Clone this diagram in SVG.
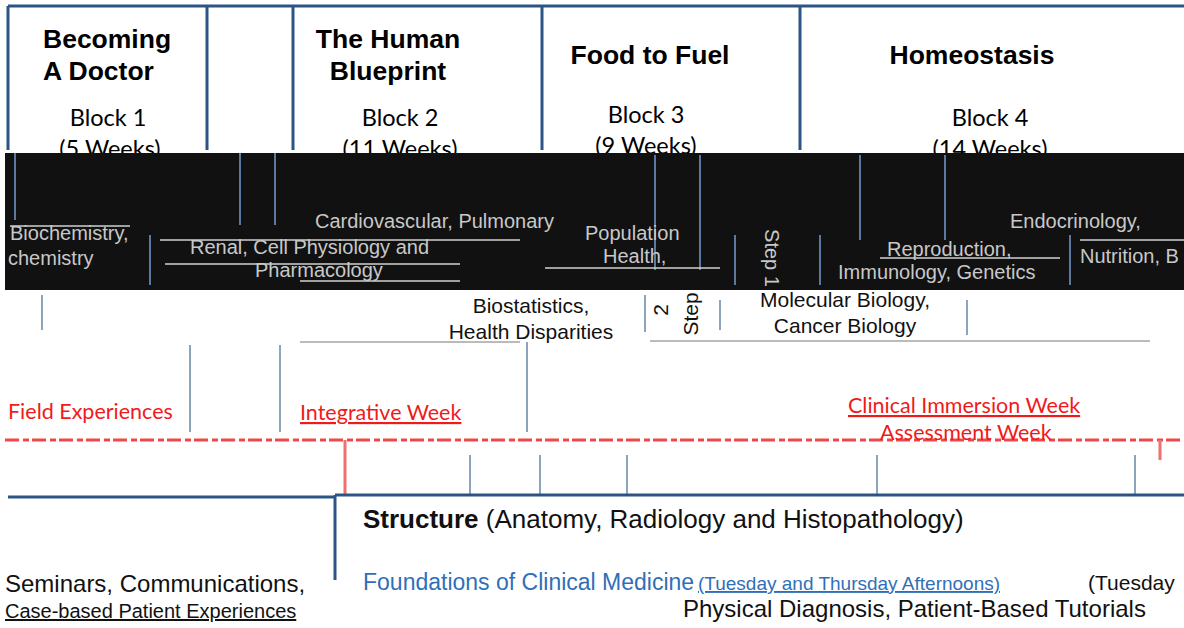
<svg xmlns="http://www.w3.org/2000/svg" width="1184" height="628" viewBox="0 0 1184 628">
<style>
.ttl{font-family:"Liberation Sans",Arial,sans-serif;font-weight:bold;font-size:26.5px;fill:#000}
.blk{font-family:Lato,"Liberation Sans",sans-serif;font-size:23.5px;fill:#000}
.dk{font-family:"Liberation Sans",Arial,sans-serif;font-size:20px;fill:#c8c8c8}
.wt{font-family:"Liberation Sans",Arial,sans-serif;font-size:21px;fill:#111}
.red{font-family:Lato,"Liberation Sans",sans-serif;font-size:21.5px;fill:#f01a1a}
.bl{stroke:#2c5585;stroke-width:3;fill:none}
.thin{stroke:#8da4bd;stroke-width:2;fill:none}
.blk-band{fill:#111}
.bot{font-family:"Liberation Sans",Arial,sans-serif;font-size:24px;fill:#111}
</style>
<rect width="1184" height="628" fill="#fff"/>
<g id="header">
<path class="bl" d="M8 6 H1184 M8 6 V150 M207 6 V150 M293 6 V150 M542 6 V150 M800 6 V150"/>
</g>
<g id="block1">
<text class="ttl" x="43" y="48">Becoming</text>
<text class="ttl" x="43" y="80">A Doctor</text>
<text class="blk" x="108" y="126" text-anchor="middle">Block 1</text>
<text class="blk" x="110" y="157" text-anchor="middle">(5 Weeks)</text>
</g>
<g id="block2">
<text class="ttl" x="388" y="48" text-anchor="middle">The Human</text>
<text class="ttl" x="388" y="80" text-anchor="middle">Blueprint</text>
<text class="blk" x="400" y="126" text-anchor="middle">Block 2</text>
<text class="blk" x="400" y="157" text-anchor="middle">(11 Weeks)</text>
</g>
<g id="block3">
<text class="ttl" x="650" y="64" text-anchor="middle">Food to Fuel</text>
<text class="blk" x="646" y="123" text-anchor="middle">Block 3</text>
<text class="blk" x="646" y="154" text-anchor="middle">(9 Weeks)</text>
</g>
<g id="block4">
<text class="ttl" x="972" y="64" text-anchor="middle">Homeostasis</text>
<text class="blk" x="990" y="126" text-anchor="middle">Block 4</text>
<text class="blk" x="990" y="157" text-anchor="middle">(14 Weeks)</text>
</g>
<g id="band">
<rect class="blk-band" x="5" y="153" width="1179" height="137"/>
<path d="M15 153 V220 M240 153 V225 M275 153 V225 M655 155 V270 M700 155 V270 M860 155 V240 M945 155 V240 M150 235 V285 M735 235 V285 M820 235 V285 M1070 235 V285" stroke="#5a78a0" stroke-width="2"/>
<path d="M10 226 H130 M160 240 H520 M165 264 H460 M300 281 H460 M545 268 H720 M880 258 H1060 M1080 240 H1184" stroke="#d0d0d0" stroke-width="1.5"/>
</g>
<g id="subjects-dark">
<text class="dk" x="10" y="240">Biochemistry,</text>
<text class="dk" x="8" y="265">chemistry</text>
<text class="dk" x="315" y="228">Cardiovascular, Pulmonary</text>
<text class="dk" x="190" y="254">Renal, Cell  Physiology and</text>
<text class="dk" x="255" y="277">Pharmacology</text>
<text class="dk" x="585" y="240">Population</text>
<text class="dk" x="603" y="263">Health,</text>
<text class="dk" x="765" y="258" transform="rotate(90 765 258)" text-anchor="middle">Step 1</text>
<text class="dk" x="1010" y="228">Endocrinology,</text>
<text class="dk" x="887" y="256">Reproduction,</text>
<text class="dk" x="838" y="279">Immunology, Genetics</text>
<text class="dk" x="1080" y="263">Nutrition, B</text>
</g>
<g id="subjects-light">
<text class="wt" x="531" y="313" text-anchor="middle">Biostatistics,</text>
<text class="wt" x="531" y="339" text-anchor="middle">Health Disparities</text>
<text class="wt" x="668" y="310" transform="rotate(-90 668 310)" text-anchor="middle">2</text>
<text class="wt" x="698" y="314" transform="rotate(-90 698 314)" text-anchor="middle">Step</text>
<text class="wt" x="845" y="307" text-anchor="middle">Molecular Biology,</text>
<text class="wt" x="845" y="333" text-anchor="middle">Cancer Biology</text>
<path class="thin" d="M645 295 V332 M720 300 V330 M967 300 V335 M42 295 V330"/>
<path d="M300 342 H520 M650 341 H1150" stroke="#bbb" stroke-width="2"/>
</g>
<g id="connectors">
<path class="thin" d="M190 345 V432 M280 345 V432 M527 342 V432 M540 455 V495 M627 455 V495 M877 455 V495 M1135 455 V495 M470 455 V495"/>
<path d="M5 440 H1184" stroke="#f04848" stroke-width="3" stroke-dasharray="14 4 6 3"/>
<path d="M345 440 V495 M1160 440 V460" stroke="#f07070" stroke-width="3"/>
</g>
<g id="red-labels">
<text class="red" x="8" y="419">Field Experiences</text>
<text class="red" x="300" y="420" text-decoration="underline">Integrative  Week</text>
<text class="red" x="848" y="413" text-decoration="underline">Clinical Immersion Week</text>
<text class="red" x="880" y="440">Assessment Week</text>
</g>
<g id="structure">
<path class="bl" d="M8 497 H335 M335 495 H1184 M335 495 V580"/>
<text x="363" y="528" font-family="Liberation Sans,Arial,sans-serif" font-size="26" fill="#111"><tspan font-weight="bold">Structure</tspan>  (Anatomy, Radiology and Histopathology)</text>
</g>
<g id="foundations">
<text x="363" y="590" font-family="Liberation Sans,Arial,sans-serif" font-size="23" fill="#2f6fb8">Foundations of Clinical Medicine</text>
<text x="698" y="590" font-family="Liberation Sans,Arial,sans-serif" font-size="19" fill="#2f6fb8" text-decoration="underline">(Tuesday and Thursday Afternoons)</text>
<text x="1088" y="590" font-family="Liberation Sans,Arial,sans-serif" font-size="21" fill="#111">(Tuesday</text>
<text x="683" y="617" class="bot">Physical Diagnosis, Patient-Based Tutorials</text>
<text x="5" y="592" class="bot">Seminars, Communications,</text>
<text x="5" y="618" font-family="Liberation Sans,Arial,sans-serif" font-size="20" fill="#111" text-decoration="underline">Case-based Patient Experiences</text>
</g>
</svg>
